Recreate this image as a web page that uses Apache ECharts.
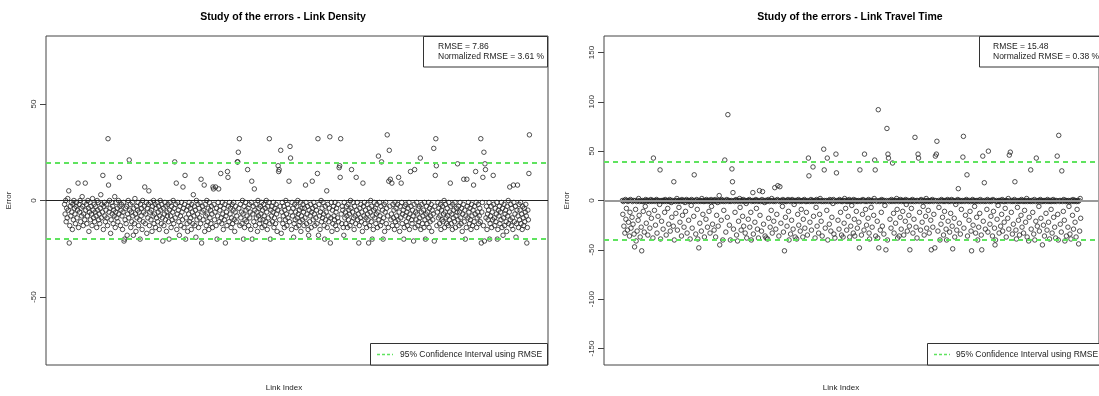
<!DOCTYPE html>
<html>
<head>
<meta charset="utf-8">
<script src="https://cdn.jsdelivr.net/npm/echarts@6/dist/echarts.min.js"></script>
<style>
  html, body { margin: 0; padding: 0; background: #fff; }
  #chart { width: 1099px; height: 396px; }
</style>
</head>
<body>
<div id="chart"></div>
<script>
// error per link, left panel: link density (left to right)
var densityErrors = [
  -2, -7, 0, -11, -4, -9, 1, -5, 5, -22, -13, -3, -8, -1, -6, -15, -2, -10, 0, -4,
  -7, -12, -3, -1, -9, -5, 9, -14, -2, -6, 0, -11, -4, -8, 2, -3, -13, -7, -1, -10,
  9, -5, -2, -12, -8, 0, -4, -16, -6, -1, -10, -3, -7, -13, 1, -5, -9, -2, -11, -6,
  -3, -8, -14, 0, -5, -1, -10, -7, -12, -4, 3, -9, -2, -6, 13, -15, -3, -1, -8, -11,
  -5, -2, -9, -13, 32, 8, -6, 0, -4, -17, -10, -1, -7, -3, -12, -5, -8, 2, -14, -6,
  -1, -9, -4, -11, 0, -7, 12, -3, -13, -5, -2, -8, -15, -6, -1, -21, -20, -10, -4, -12,
  -3, -18, -7, 0, -9, 21, -5, -2, -14, -6, -11, -1, -8, -18, -4, -12, 1, -7, -16, -3,
  -9, -5, -1, -13, -6, -10, -20, -2, -8, -4, -15, 0, -11, -6, -3, 7, -12, -7, -1, -17,
  -4, -9, -2, 5, -13, -6, -1, -10, -5, -16, -3, -8, 0, -12, -7, -2, -14, -4, -9, -1,
  -11, -6, -3, -15, -8, 0, -5, -12, -2, -9, -21, -4, -13, -7, -1, -10, -3, -16, -6, -8,
  -2, -11, -20, -5, -1, -8, -14, -3, -10, -6, 0, -12, -4, 20, -9, -2, 9, -15, -7, -1,
  -5, -11, -18, -3, -8, -13, -1, -6, -10, 7, -4, -14, -2, 13, -20, -9, -5, -12, -16, -3,
  -7, -1, -11, -4, -9, -15, -2, -6, -12, 3, -8, -3, -13, -5, -19, 0, -10, -7, -2, -14,
  -4, -9, -1, -12, 11, -22, -6, -3, -10, -5, 8, -16, -2, -8, -13, 0, -7, -11, -4, -15,
  -1, -9, -5, -12, -3, -7, -14, 7, 6, -2, -10, -6, 7, -13, -4, -20, -8, -1, 6, -11,
  -5, -3, 14, -9, -12, -1, -7, -15, -4, -10, -2, -22, -8, -6, -13, 15, 12, -3, -11, -1,
  -7, -4, -14, -9, -2, -12, -5, -1, -10, -16, -6, -3, -11, -8, 20, 20, 25, -4, 32, -13,
  -2, -9, -6, -12, 0, -7, -20, -3, -14, -10, -1, -5, -11, -8, 16, -4, -13, -2, -9, -6,
  -15, -1, 10, -20, -7, -3, -11, 6, -5, -13, -2, -9, -6, -16, 0, -8, -4, -12, -10, -3,
  -7, -1, -14, -5, -10, -2, -8, -13, -4, -11, 0, -6, -15, -3, -9, -1, 32, -12, -20, -5,
  -8, -3, -11, -6, -1, -14, -9, -4, -12, -2, -7, -16, -5, 18, 15, 16, -10, -3, 26, -17,
  -6, -1, -12, -8, -3, -14, -5, -10, 0, -7, -13, -2, -9, -4, 10, -11, 28, 22, -6, -15,
  -1, -8, -4, -19, -12, -2, -10, -6, -14, -3, -9, 0, -7, -13, -5, -11, -1, -16, -8, -4,
  -10, -2, -6, -13, -4, -9, 8, -1, -12, -7, -3, -15, -18, -5, -11, -8, -2, -14, -6, 10,
  -4, -10, -1, -7, -13, -3, -9, -5, -12, 14, 32, -18, -2, -8, -15, -6, 0, -11, -4, -9,
  -1, -7, -13, -20, -3, -10, -6, 5, -14, -2, -8, -11, -4, 33, -22, -9, -1, -16, -5, -12,
  -3, -8, -10, -1, -13, -6, -4, -15, -9, -2, -11, 17, 18, 12, 32, -7, -12, -3, -5, -14,
  -18, -1, -9, -6, -12, -3, -8, -14, -2, -10, -5, -7, -13, 0, -4, 16, -11, -6, -1, -9,
  -15, -3, -8, -12, 12, -5, -1, -10, -7, -22, -13, -4, -9, -2, -11, -6, -16, 9, -3, -8,
  -1, -12, -5, -9, -14, -2, -7, -10, -22, -4, -13, -6, 0, -11, -3, -20, -8, -15, -5, -1,
  -9, -4, -12, -7, -2, -14, -6, 23, -10, -1, -8, -13, -3, 20, -11, -5, -20, -9, -2, -16,
  -6, -1, -12, -4, 34, -8, -14, 10, 26, -3, 11, -10, -7, 9, -13, -2, -9, -5, -15, -1,
  -11, -4, -8, -13, -2, -10, 12, -6, -16, -3, -9, 9, -1, -12, -7, -5, -20, -14, -3, -8,
  -2, -11, -6, -13, -4, -9, -1, -15, -7, 15, -3, -10, -12, -5, -8, -21, -2, 16, -14, -6,
  -10, -1, -7, -13, -4, -11, -3, -9, 22, -15, -6, -2, -12, -8, -5, -14, -1, -10, -20, -7,
  -3, -12, -6, -9, -1, -14, -4, -11, -8, -2, -16, -5, -10, -7, 27, -21, -3, 13, 32, 18,
  -13, -6, -1, -9, -4, -12, -8, -2, -15, -5, -10, -3, -11, -7, 0, -14, -6, -2, -9, -12,
  -4, -8, -13, -1, -10, -6, 9, -3, -12, -7, -15, -2, -9, -5, -11, -1, -14, -8, -4, -6,
  19, -10, -3, -13, -6, -1, -9, -12, -4, -16, -7, -2, 11, -11, -5, -20, -8, -14, 11, -3,
  -9, -1, -6, -12, -4, -10, -15, -2, -8, -13, -5, 8, -11, -3, -7, 15, -1, -14, -9, -6,
  -2, -12, -8, -4, -11, 32, -22, -6, -1, 12, -13, 25, -21, 19, 16, -9, -3, -15, -7, -10,
  -5, -1, -20, -12, -8, -3, -14, -6, -10, 13, -2, -9, -13, -4, -11, -7, -1, -20, -15, -5,
  -8, -3, -12, -6, -10, -1, -14, -4, -18, -9, -2, -13, -7, -5, -11, -16, -3, -8, 0, -12,
  -6, 7, -10, -2, -13, -4, -9, -15, 8, -1, -11, -7, -3, -19, -12, -5, 8, -8, -14, -2,
  -10, -5, -1, -12, -7, -15, -3, -9, -13, -4, -11, -6, -2, -8, -22, -14, -5, -10, 14, 34
];

// error per link, right panel: link travel time
var travelErrors = [
  0, -14, -1, -26, 0, -33, 1, -19, -8, 0, -30, -1, -22, 0, -36, -12, 1, -28, 0, -17,
  -1, -24, 0, -34, -47, 0, -9, -41, -1, -31, 0, -20, 2, -15, -1, -37, 0, -27, -51, -1,
  0, -11, -1, -32, 0, -6, 1, -23, -1, 0, -35, 0, -13, -1, -28, 0, 1, -18, -1, 0,
  -38, 43, 0, -10, -1, -25, 0, 1, -33, 0, -16, -1, 0, -4, 31, -39, 0, -21, -1, 0,
  -29, 0, -1, -12, 1, 0, -35, -1, 0, -8, 0, -24, -1, 1, -31, 0, -2, -17, 0, -1,
  -26, 19, -40, 0, -1, -13, 0, 2, -30, -1, 0, -7, 0, -22, -1, 0, -36, 1, -15, 0,
  -1, -27, 0, -2, -11, 0, 1, -33, -1, 0, -20, 0, -1, -39, 0, -5, 1, -28, 0, -1,
  -16, 26, 0, -1, -34, 0, 1, -9, -39, -1, -48, 0, -23, 0, -1, -31, 2, 0, -14, -1,
  0, -37, -1, 0, -19, 1, 0, -27, -1, 0, -11, 0, -33, -1, 1, -6, 0, -24, -1, 0,
  -30, 0, 1, -37, -1, -15, 0, -2, -26, 0, 5, -45, -1, 0, -20, 1, 0, -40, -1, -10,
  0, 41, -1, -32, 0, 1, -17, 87, 0, -1, -25, 0, -40, -1, 0, 32, 19, 8, -29, 0,
  -1, -12, 0, 1, -35, 0, -41, -1, -21, 0, 2, -7, 0, -30, -1, 0, -16, 1, -26, 0,
  -1, -33, 0, -3, -38, 0, -1, -19, 0, 1, -27, 0, -12, -40, -1, 0, 8, -34, 0, -1,
  -22, 0, 1, -8, 0, -29, -1, -38, 0, 10, -15, -1, 0, -31, 1, 9, -1, -24, 0, -2,
  -36, 0, -38, -1, 0, -39, 1, -18, 0, -1, -27, 0, -10, 2, -33, 0, -1, -21, 0, 13,
  -1, -29, 0, -14, 1, 15, 0, -36, -1, 14, 0, -23, -1, 0, -6, 1, -32, 0, -51, -1,
  -17, 0, -1, -26, 0, 1, -11, -40, 0, -1, -34, 0, -20, 1, 0, -29, -1, -4, 0, -37,
  0, -1, -39, 0, -14, 1, -25, 0, -1, -31, 0, -9, -1, 0, -37, -19, 0, 1, -28, -1,
  0, -12, -1, -35, 0, 43, 25, -1, -22, 0, 1, -30, -1, 0, 34, -16, 0, -1, -38, 0,
  -7, 1, -26, 0, -1, -33, 0, -14, 2, 0, -21, -1, -36, 0, -1, 52, 31, 0, -28, -1,
  0, -10, 43, -40, 0, -1, -24, 1, 0, -31, -1, -17, 0, -3, 1, -34, 0, -38, -1, 47,
  28, 0, -1, -20, 0, -29, 1, 0, -12, -1, -35, 0, -1, -37, 0, -23, 2, 0, -8, -1,
  -30, 0, -1, -16, 0, 1, -37, -1, -26, 0, -5, -1, 0, -33, 1, -19, -36, 0, -1, -11,
  0, -28, -1, 0, -22, -48, 31, 0, -1, -35, 0, -14, 1, 0, -30, 47, -1, -9, 0, -25,
  -1, 0, -18, 1, -33, -39, 0, -1, -7, 0, -27, -1, 0, -15, 2, 41, 31, -36, 0, -1,
  -21, -38, 92, -48, 0, -1, -30, 0, -12, 1, -26, 0, -1, -34, 0, -5, -1, -50, 0, 73,
  -40, 47, 43, 0, -1, -19, 0, -28, 1, -1, 38, 0, -13, -33, 0, -1, -23, 0, 2, -9,
  -38, 0, -1, -36, 0, -17, 1, -29, -1, 0, -11, 0, -35, -1, 0, -21, 1, -4, 0, -31,
  -1, 0, -15, -26, -50, 0, -1, -8, 0, 1, -33, -1, -19, 0, 64, -1, -27, 0, -38, 0,
  47, 43, -1, -12, 0, -30, 1, 0, -22, -1, -6, 0, -35, -1, 0, -16, 2, -28, 0, -1,
  -10, 0, -33, -1, 0, -20, -50, 0, 1, -27, -1, -14, 0, -48, 45, 0, 47, 60, -1, -31,
  0, -7, -1, -40, 0, -24, 1, 0, -17, -1, -35, 0, -11, -1, 0, -29, -40, 0, 1, -21,
  -1, 0, -32, -1, -13, 0, 1, -26, -49, 0, -1, -18, -37, 0, -4, -1, -30, 0, 1, 12,
  0, -23, -1, -34, 0, -9, -1, 0, 44, 65, -28, 0, -1, -15, 0, 1, 26, -36, 0, -1,
  -20, 0, -11, -1, -31, -51, 0, 1, -25, -1, 0, -6, -1, -33, 0, -17, 0, -40, -1, -27,
  0, -13, 1, -1, -35, -50, 0, 45, -21, -1, 18, 0, -29, -1, 0, -9, 1, -32, 50, 0,
  -1, -24, 0, -16, -1, 0, -36, 1, -11, 0, -28, -45, -40, -1, 0, -19, -1, -5, 0, -33,
  0, -1, -26, 0, -14, 1, -31, -1, 0, -22, -1, -8, 0, -37, 0, -1, -18, 2, -29, 46,
  0, 49, -1, -12, 0, -34, -1, -24, 0, 1, 19, -1, -30, -39, 0, -7, -1, -20, 0, -35,
  -1, 0, -15, 1, -27, 0, -1, -33, 0, -10, -1, -22, 0, 2, -37, -1, 0, -41, -17, 0,
  -1, 31, -29, 0, -1, -12, 0, -34, 1, -40, -1, -21, 43, 0, -26, -1, 0, -6, -31, 0,
  1, -18, -1, 0, -45, -1, -25, 0, -36, 0, -1, -13, 0, -30, 1, -1, -22, 0, -39, -1,
  0, -9, -1, -33, 0, 1, -17, -1, -27, 0, -38, -1, 0, 45, -14, -40, 66, 0, -1, -24,
  0, -32, 30, -1, 0, -11, 1, -20, -41, -1, 0, -36, 0, -1, -27, 0, -6, -1, -34, 0,
  -39, -1, 0, -15, 1, -29, -1, 0, -22, 0, -37, -1, -9, 0, -1, -44, 0, -31, 2, -18
];

var densityTicks = [-50, 0, 50];
var travelTicks = [-150, -100, -50, 0, 50, 100, 150];
var densityBand = 19.65;   // 2.5 * RMSE
var travelBand = 39.5;

var font = '"Liberation Sans", Arial, sans-serif';
var chart = echarts.init(document.getElementById('chart'), null, { renderer: 'canvas' });

function toPoints(arr) {
  return arr.map(function (v, i) { return [i + 1, v]; });
}

// R pads the index axis by 4% on each side
function padded(n) {
  var d = 0.04 * (n - 1);
  return { min: 1 - d, max: n + d };
}

function xAxisFor(idx, n) {
  var r = padded(n);
  return {
    type: 'value', gridIndex: idx, min: r.min, max: r.max,
    axisLine: { show: false, onZero: false }, axisTick: { show: false },
    axisLabel: { show: false }, splitLine: { show: false }
  };
}

function yAxisFor(idx, lim, ticks) {
  return {
    type: 'value', gridIndex: idx, min: -lim, max: lim,
    axisLine: { show: false, onZero: false },
    axisTick: { show: true, inside: false, length: 6, customValues: ticks,
                lineStyle: { color: '#444', width: 1 } },
    axisLabel: { show: true, rotate: 90, margin: 8, customValues: ticks,
                 fontFamily: font, fontSize: 8, color: '#333' },
    splitLine: { show: false },
    name: 'Error', nameLocation: 'middle', nameGap: 33,
    nameTextStyle: { fontFamily: font, fontSize: 8, color: '#333' }
  };
}

function refLines(band, zeroColor, zeroWidth) {
  var green = { color: '#5fe35f', type: [5, 4], width: 2 };
  return {
    silent: true, symbol: ['none', 'none'], label: { show: false },
    animation: false,
    data: [
      { yAxis: band, lineStyle: green },
      { yAxis: -band, lineStyle: green },
      { yAxis: 0, lineStyle: { color: zeroColor, type: 'solid', width: zeroWidth } }
    ]
  };
}

var pointStyle = { color: 'rgba(0,0,0,0)', borderColor: '#262626', borderWidth: 1 };

function plainText(x, y, s, size, align, weight) {
  return { type: 'text', x: x, y: y, silent: true,
           style: { text: s, fontFamily: font, fontSize: size, fontWeight: weight || 'normal',
                    fill: weight ? '#000' : '#222', align: align, verticalAlign: 'middle' } };
}

var option = {
  backgroundColor: '#fff',
  animation: false,
  grid: [
    { left: 46, top: 36, width: 502, height: 329, show: true, borderColor: '#444', borderWidth: 1, backgroundColor: 'transparent' },
    { left: 604, top: 36, width: 502, height: 329, show: true, borderColor: '#444', borderWidth: 1, backgroundColor: 'transparent' }
  ],
  xAxis: [xAxisFor(0, densityErrors.length), xAxisFor(1, travelErrors.length)],
  yAxis: [yAxisFor(0, 85.2, densityTicks), yAxisFor(1, 166.7, travelTicks)],
  series: [
    {
      type: 'scatter', xAxisIndex: 0, yAxisIndex: 0, silent: true,
      symbol: 'circle', symbolSize: 4.5, itemStyle: pointStyle,
      data: toPoints(densityErrors),
      markLine: refLines(densityBand, '#222', 1.2)
    },
    {
      type: 'scatter', xAxisIndex: 1, yAxisIndex: 1, silent: true,
      symbol: 'circle', symbolSize: 4.5, itemStyle: pointStyle,
      data: toPoints(travelErrors),
      markLine: refLines(travelBand, '#9a9a9a', 2)
    }
  ],
  graphic: [
    plainText(283, 17, 'Study of the errors - Link Density', 10.5, 'center', 'bold'),
    plainText(850, 17, 'Study of the errors - Link Travel Time', 10.5, 'center', 'bold'),
    plainText(284, 388, 'Link Index', 8, 'center'),
    plainText(841, 388, 'Link Index', 8, 'center'),

    // RMSE boxes
    { type: 'rect', shape: { x: 423.5, y: 36.5, width: 124, height: 30.5 }, silent: true,
      style: { fill: '#fff', stroke: '#333', lineWidth: 1 } },
    plainText(438, 46.5, 'RMSE = 7.86', 8.5, 'left'),
    plainText(438, 57, 'Normalized RMSE = 3.61 %', 8.5, 'left'),
    { type: 'rect', shape: { x: 979.5, y: 36.5, width: 140, height: 30.5 }, silent: true,
      style: { fill: '#fff', stroke: '#333', lineWidth: 1 } },
    plainText(993, 46.5, 'RMSE = 15.48', 8.5, 'left'),
    plainText(993, 57, 'Normalized RMSE = 0.38 %', 8.5, 'left'),

    // confidence interval legends
    { type: 'rect', shape: { x: 370.5, y: 343.5, width: 177, height: 21.5 }, silent: true,
      style: { fill: '#fff', stroke: '#333', lineWidth: 1 } },
    { type: 'line', shape: { x1: 377, y1: 354.5, x2: 393, y2: 354.5 }, silent: true,
      style: { stroke: '#5fe35f', lineWidth: 1.5, lineDash: [3, 2] } },
    plainText(400, 354.5, '95% Confidence Interval using RMSE', 8.5, 'left'),
    { type: 'rect', shape: { x: 927.5, y: 343.5, width: 190, height: 21.5 }, silent: true,
      style: { fill: '#fff', stroke: '#333', lineWidth: 1 } },
    { type: 'line', shape: { x1: 934, y1: 354.5, x2: 950, y2: 354.5 }, silent: true,
      style: { stroke: '#5fe35f', lineWidth: 1.5, lineDash: [3, 2] } },
    plainText(956, 354.5, '95% Confidence Interval using RMSE', 8.5, 'left')
  ]
};

chart.setOption(option);
</script>
</body>
</html>
